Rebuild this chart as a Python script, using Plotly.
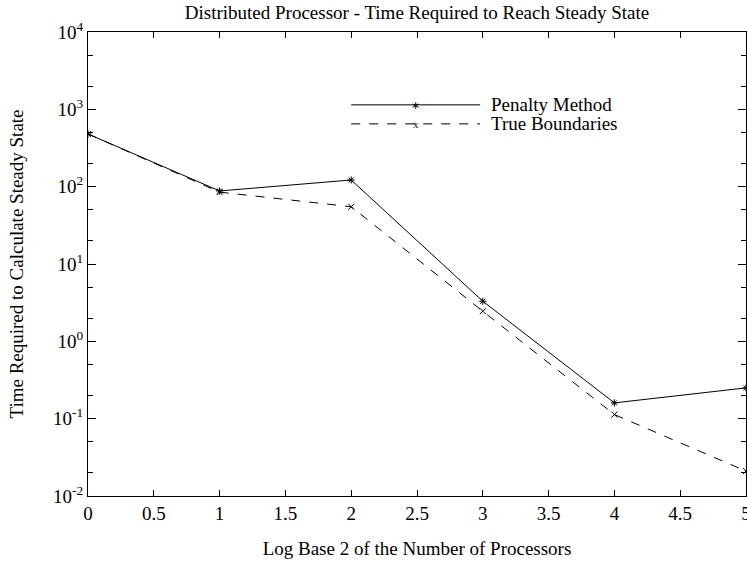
import plotly.graph_objects as go

x_vals = [0, 1, 2, 3, 4, 5]
penalty = [480, 88, 122, 3.3, 0.16, 0.25]
true_bound = [480, 85, 55, 2.45, 0.113, 0.021]

x_ticks = [0, 0.5, 1, 1.5, 2, 2.5, 3, 3.5, 4, 4.5, 5]
x_tick_text = ["0", "0.5", "1", "1.5", "2", "2.5", "3", "3.5", "4", "4.5", "5"]
y_ticks = [1e-2, 1e-1, 1e0, 1e1, 1e2, 1e3, 1e4]
y_tick_text = ["10<sup>-2</sup>", "10<sup>-1</sup>", "10<sup>0</sup>", "10<sup>1</sup>",
               "10<sup>2</sup>", "10<sup>3</sup>", "10<sup>4</sup>"]

FONT = "Liberation Serif, Times New Roman, serif"
FS = 19

fig = go.Figure()
fig.add_trace(go.Scatter(x=x_vals, y=penalty, mode="lines+markers", name="Penalty Method",
                         line=dict(color="black", width=1),
                         marker=dict(symbol="asterisk-open", size=6, color="black",
                                     line=dict(color="black", width=1))))
fig.add_trace(go.Scatter(x=x_vals, y=true_bound, mode="lines+markers", name="True Boundaries",
                         line=dict(color="black", width=1, dash="dash"),
                         marker=dict(symbol="x-thin-open", size=6, color="black",
                                     line=dict(color="black", width=1))))

# manual legend
leg = [("Penalty Method", "solid", "∗", 0.843), ("True Boundaries", "dash", "x", 0.802)]
for name, dash, sym, yy in leg:
    fig.add_shape(type="line", xref="paper", yref="paper", x0=0.400, x1=0.596, y0=yy, y1=yy,
                  line=dict(color="black", width=1, dash=dash))
    fig.add_annotation(xref="paper", yref="paper", x=0.498, y=yy, text=sym, showarrow=False,
                       font=dict(family=FONT, size=11, color="black"),
                       xanchor="center", yanchor="middle", borderpad=0)
    fig.add_annotation(xref="paper", yref="paper", x=0.609, y=yy, text=name, showarrow=False,
                       font=dict(family=FONT, size=FS, color="black"),
                       xanchor="left", yanchor="middle")

fig.update_layout(
    width=747, height=565,
    margin=dict(l=88, r=1, t=32, b=69),
    paper_bgcolor="white", plot_bgcolor="white",
    showlegend=False,
    font=dict(family=FONT, size=FS, color="black"),
    title=dict(text="Distributed Processor - Time Required to Reach Steady State",
               x=0.5, xref="paper", y=0.979, yanchor="middle",
               font=dict(family=FONT, size=FS, color="black")),
    xaxis=dict(range=[0, 5], tickvals=x_ticks, ticktext=x_tick_text,
               ticks="inside", ticklen=6, tickcolor="black",
               showline=True, linecolor="black", linewidth=1, mirror="ticks",
               showgrid=False, zeroline=False, ticklabeloverflow="allow",
               automargin="bottom",
               title=dict(text="Log Base 2 of the Number of Processors", standoff=18,
                          font=dict(size=FS))),
    yaxis=dict(type="log", range=[-2, 4], tickvals=y_ticks, ticktext=y_tick_text,
               ticks="inside", ticklen=8, tickcolor="black",
               minor=dict(ticks="inside", ticklen=5, tickcolor="black", showgrid=False),
               showline=True, linecolor="black", linewidth=1, mirror="ticks",
               showgrid=False, zeroline=False, automargin="left",
               title=dict(text="Time Required to Calculate Steady State", standoff=24,
                          font=dict(size=FS))),
)

fig.write_html("out.html", config={"displayModeBar": False},
               post_script="document.body.style.margin='0';document.body.style.overflow='hidden';")
